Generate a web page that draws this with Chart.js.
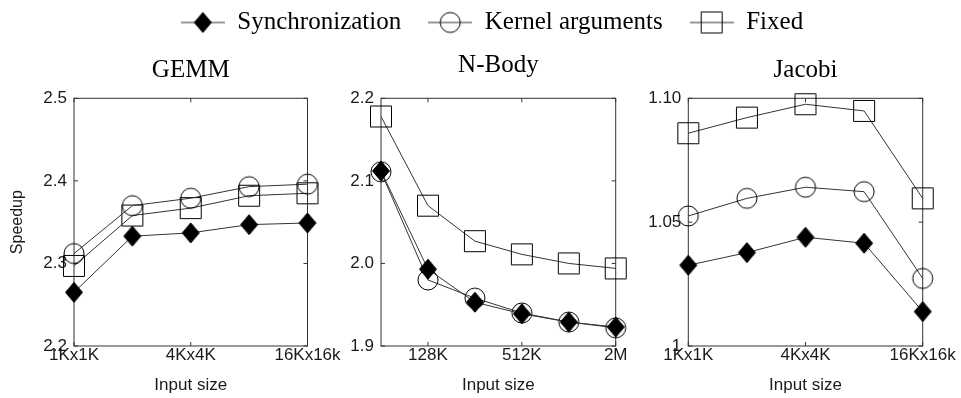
<!DOCTYPE html>
<html lang="en">
<head>
    <meta charset="UTF-8">
    <title>Speedup by input size</title>
    <style>
        body { margin: 0; background: #fff; overflow: hidden; }
        #wrap { position: relative; width: 961px; height: 398px; }
        #wrap canvas { position: absolute; left: 0; top: 0; }
        #wrap #legendChart { top: -17px; }
    </style>
</head>
<body>
<div id="wrap">
    <canvas id="legendChart" width="961" height="398"></canvas>
    <canvas id="gemmChart" width="961" height="398"></canvas>
    <canvas id="nbodyChart" width="961" height="398"></canvas>
    <canvas id="jacobiChart" width="961" height="398"></canvas>
</div>
<script src="https://cdn.jsdelivr.net/npm/chart.js"></script>
<script>
    var seriesNames = ['Synchronization', 'Kernel arguments', 'Fixed'];

    // GEMM
    var gemmSizes = ['1Kx1K', '2Kx2K', '4Kx4K', '8Kx8K', '16Kx16k'];
    var gemmTickLabels = ['1Kx1K', '', '4Kx4K', '', '16Kx16k'];
    var gemmSync = [2.265, 2.333, 2.337, 2.347, 2.349];
    var gemmKernel = [2.312, 2.370, 2.379, 2.393, 2.396];
    var gemmFixed = [2.297, 2.358, 2.367, 2.382, 2.385];

    // N-Body
    var nbodySizes = ['64K', '128K', '256K', '512K', '1M', '2M'];
    var nbodyTickLabels = ['', '128K', '', '512K', '', '2M'];
    var nbodySync = [2.112, 1.993, 1.953, 1.939, 1.929, 1.923];
    var nbodyKernel = [2.111, 1.980, 1.958, 1.940, 1.929, 1.922];
    var nbodyFixed = [2.178, 2.070, 2.027, 2.011, 2.000, 1.994];

    // Jacobi
    var jacobiSizes = ['1Kx1K', '2Kx2K', '4Kx4K', '8Kx8K', '16Kx16k'];
    var jacobiTickLabels = ['1Kx1K', '', '4Kx4K', '', '16Kx16k'];
    var jacobiSync = [1.0326, 1.0377, 1.0439, 1.0415, 1.0139];
    var jacobiKernel = [1.0525, 1.0596, 1.0641, 1.0623, 1.0273];
    var jacobiFixed = [1.0859, 1.0922, 1.0976, 1.0949, 1.0596];

    var sansFont = 'Liberation Sans';
    var serifFont = 'Liberation Serif';
    var textColor = '#1a1a1a';
    var lineColor = '#333';

    Chart.defaults.color = textColor;
    Chart.defaults.font.family = sansFont;

    // marker images (drawn once, then used as pointStyle)
    function drawMarker(ctx, kind, cx, cy) {
        ctx.strokeStyle = '#000';
        ctx.fillStyle = '#000';
        ctx.lineWidth = 1;
        ctx.beginPath();
        if (kind === 'diamond') {
            ctx.moveTo(cx, cy - 10);
            ctx.lineTo(cx + 8.5, cy);
            ctx.lineTo(cx, cy + 10);
            ctx.lineTo(cx - 8.5, cy);
            ctx.closePath();
            ctx.fill();
            ctx.stroke();
        } else if (kind === 'circle') {
            ctx.arc(cx, cy, 10, 0, Math.PI * 2);
            ctx.stroke();
        } else {
            ctx.rect(cx - 10.5, cy - 10.5, 21, 21);
            ctx.stroke();
        }
    }

    function makeMarker(kind, w, h, withLine) {
        var c = document.createElement('canvas');
        c.width = w;
        c.height = h;
        var ctx = c.getContext('2d');
        if (withLine) {
            ctx.strokeStyle = lineColor;
            ctx.lineWidth = 1;
            ctx.beginPath();
            ctx.moveTo(0, h / 2);
            ctx.lineTo(w, h / 2);
            ctx.stroke();
        }
        drawMarker(ctx, kind, w / 2, h / 2);
        return c;
    }

    var kinds = ['diamond', 'circle', 'square'];
    var pointIcons = kinds.map(function(k) { return makeMarker(k, 24, 24, false); });
    var legendIcons = kinds.map(function(k) { return makeMarker(k, 44, 24, true); });

    // frame, inner tick marks and panel title
    var panelPlugin = {
        id: 'panel',
        beforeDatasetsDraw: function(chart, args, opts) {
            var a = chart.chartArea;
            var ctx = chart.ctx;
            var xs = chart.scales.x, ys = chart.scales.y;
            ctx.save();
            ctx.strokeStyle = '#333';
            ctx.lineWidth = 1;
            ctx.strokeRect(a.left, a.top, a.right - a.left, a.bottom - a.top);
            ctx.beginPath();
            opts.xTicks.forEach(function(lbl, i) {
                if (!lbl) return;
                var px = xs.getPixelForValue(i);
                ctx.moveTo(px, a.bottom); ctx.lineTo(px, a.bottom - 4);
                ctx.moveTo(px, a.top); ctx.lineTo(px, a.top + 4);
            });
            ys.ticks.forEach(function(t) {
                var py = ys.getPixelForValue(t.value);
                ctx.moveTo(a.left, py); ctx.lineTo(a.left + 4, py);
                ctx.moveTo(a.right, py); ctx.lineTo(a.right - 4, py);
            });
            ctx.stroke();
            ctx.restore();
        },
        afterDraw: function(chart, args, opts) {
            if (!opts.title) return;
            var a = chart.chartArea;
            var ctx = chart.ctx;
            ctx.save();
            ctx.font = '25px "' + serifFont + '"';
            ctx.fillStyle = '#000';
            ctx.textAlign = 'center';
            ctx.textBaseline = 'alphabetic';
            ctx.fillText(opts.title, (a.left + a.right) / 2, opts.titleY);
            ctx.restore();
        }
    };

    function makeDatasets(values) {
        return values.map(function(v, i) {
            return {
                label: seriesNames[i],
                data: v,
                borderColor: lineColor,
                borderWidth: 1,
                pointStyle: pointIcons[i],
                pointRadius: 10,
                tension: 0,
                clip: false
            };
        });
    }

    function makePanel(id, opts) {
        var ctx = document.getElementById(id).getContext('2d');
        var yTitle = opts.yTitle
            ? { display: true, text: opts.yTitle, color: textColor, font: { family: sansFont, size: 16 }, padding: { top: 8, bottom: 0 } }
            : { display: false };
        return new Chart(ctx, {
            type: 'line',
            data: { labels: opts.labels, datasets: makeDatasets(opts.series) },
            options: {
                responsive: false,
                devicePixelRatio: 1,
                animation: false,
                events: [],
                layout: { padding: { left: opts.left - 74, right: 961 - opts.right, top: 98.3, bottom: 0 } },
                plugins: {
                    legend: { display: false },
                    tooltip: { enabled: false },
                    panel: { title: opts.title, titleY: opts.titleY, xTicks: opts.tickLabels }
                },
                scales: {
                    x: {
                        type: 'category',
                        offset: false,
                        grid: { display: false, drawTicks: false, tickLength: 0 },
                        border: { display: false },
                        ticks: {
                            autoSkip: false,
                            maxRotation: 0,
                            padding: -1,
                            color: textColor,
                            font: { family: sansFont, size: 17 },
                            callback: function(v, i) { return opts.tickLabels[i]; }
                        },
                        title: { display: true, text: 'Input size', color: textColor, font: { family: sansFont, size: 17 }, padding: { top: 0, bottom: 2 } },
                        afterFit: function(s) { s.height = 52; }
                    },
                    y: {
                        min: opts.yMin,
                        max: opts.yMax,
                        grid: { display: false, drawTicks: false, tickLength: 0 },
                        border: { display: false },
                        ticks: {
                            stepSize: opts.yStep,
                            padding: 7,
                            color: textColor,
                            font: { family: sansFont, size: 17 },
                            callback: opts.yFormat
                        },
                        title: yTitle,
                        afterFit: function(s) { s.width = 74; }
                    }
                }
            },
            plugins: [panelPlugin]
        });
    }

    makePanel('gemmChart', {
        title: 'GEMM', titleY: 77, yTitle: 'Speedup',
        left: 74, right: 307.5,
        labels: gemmSizes, tickLabels: gemmTickLabels,
        series: [gemmSync, gemmKernel, gemmFixed],
        yMin: 2.2, yMax: 2.5, yStep: 0.1,
        yFormat: function(v) { return v.toFixed(1); }
    });

    makePanel('nbodyChart', {
        title: 'N-Body', titleY: 72,
        left: 381, right: 615.7,
        labels: nbodySizes, tickLabels: nbodyTickLabels,
        series: [nbodySync, nbodyKernel, nbodyFixed],
        yMin: 1.9, yMax: 2.2, yStep: 0.1,
        yFormat: function(v) { return v.toFixed(1); }
    });

    makePanel('jacobiChart', {
        title: 'Jacobi', titleY: 77,
        left: 688.3, right: 922.7,
        labels: jacobiSizes, tickLabels: jacobiTickLabels,
        series: [jacobiSync, jacobiKernel, jacobiFixed],
        yMin: 1, yMax: 1.1, yStep: 0.05,
        yFormat: function(v) { return Math.abs(v - 1) < 1e-9 ? '1' : v.toFixed(2); }
    });

    // shared legend across the top
    new Chart(document.getElementById('legendChart').getContext('2d'), {
        type: 'line',
        data: {
            labels: [],
            datasets: seriesNames.map(function(n) { return { label: n, data: [] }; })
        },
        options: {
            responsive: false,
            devicePixelRatio: 1,
            animation: false,
            events: [],
            layout: { padding: { left: 23, top: 0 } },
            scales: { x: { display: false }, y: { display: false } },
            plugins: {
                tooltip: { enabled: false },
                legend: {
                    display: true,
                    position: 'top',
                    labels: {
                        usePointStyle: true,
                        pointStyleWidth: 44,
                        padding: 27,
                        color: '#000',
                        font: { family: serifFont, size: 25 },
                        generateLabels: function(chart) {
                            return seriesNames.map(function(name, i) {
                                return {
                                    text: name,
                                    pointStyle: legendIcons[i],
                                    fillStyle: '#000',
                                    strokeStyle: '#000',
                                    lineWidth: 0,
                                    hidden: false,
                                    datasetIndex: i,
                                    fontColor: '#000'
                                };
                            });
                        }
                    }
                }
            }
        }
    });
</script>
</body>
</html>
